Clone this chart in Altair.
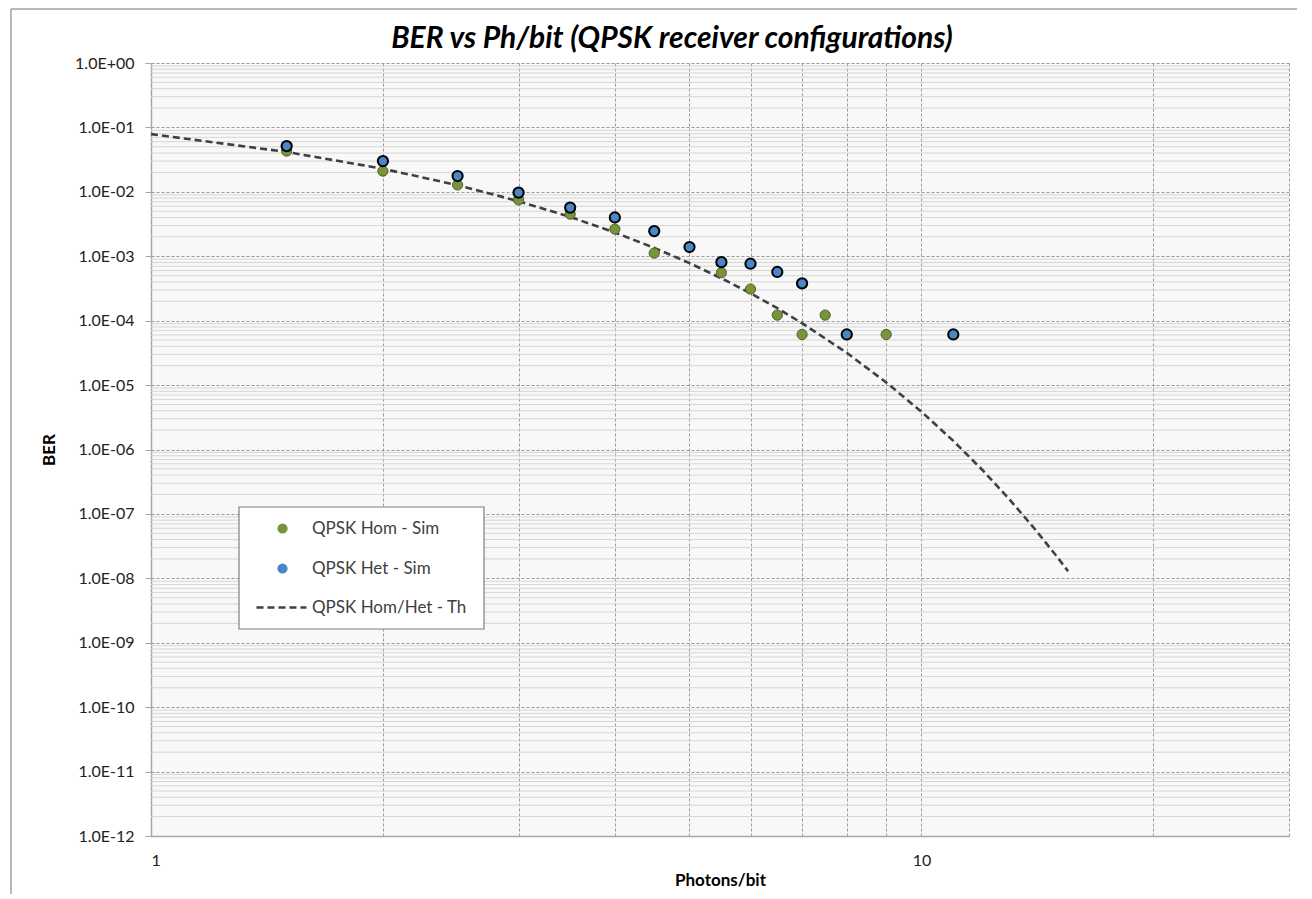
import altair as alt
import pandas as pd

# ---- data ----
hom_x = [1.5, 2, 2.5, 3, 3.5, 4, 4.5, 5.5, 6, 6.5, 7, 7.5, 9]
hom_y = [0.043, 0.021, 0.0128, 0.0075, 0.0045, 0.00264, 0.00112, 0.000555,
         0.00031, 0.000122, 6.1e-5, 0.000122, 6.1e-5]

het_x = [1.5, 2, 2.5, 3, 3.5, 4, 4.5, 5, 5.5, 6, 6.5, 7, 8, 11]
het_y = [0.0513, 0.030, 0.0176, 0.0097, 0.0057, 0.0040, 0.00246, 0.00139,
         0.00081, 0.000765, 0.00057, 0.00038, 6.1e-5, 6.1e-5]

th_x = [1, 1.5, 2, 2.5, 3, 3.5, 4, 4.5, 5, 5.5, 6, 6.5, 7, 8, 9, 10, 11, 12,
        13, 14, 15, 15.5]
th_y = [0.0787, 0.0416, 0.0228, 0.0127, 0.00715, 0.00408, 0.00234, 0.00135,
        0.000783, 0.000455, 0.000266, 0.000156, 9.14e-5, 3.17e-5, 1.1e-5,
        3.87e-6, 1.36e-6, 4.81e-7, 1.7e-7, 6.05e-8, 2.16e-8, 1.29e-8]

S_HOM = "QPSK Hom - Sim"
S_HET = "QPSK Het - Sim"
S_TH = "QPSK Hom/Het - Th"
TITLE = "BER vs Ph/bit (QPSK receiver configurations)"

x_ticks = [1, 2, 3, 4, 5, 6, 7, 8, 9, 10, 20, 30]
y_major = [10.0 ** k for k in range(-12, 1)]
y_minor = [m * 10.0 ** k for k in range(-12, 0) for m in range(2, 10)]

pts = pd.DataFrame({
    "x": hom_x + het_x,
    "y": hom_y + het_y,
    "series": [S_HOM] * len(hom_x) + [S_HET] * len(het_x),
})
th = pd.DataFrame({"x": th_x, "y": th_y, "series": [S_TH] * len(th_x)})
minor = pd.DataFrame({"y": y_minor})
one = pd.DataFrame({"a": [0]})

W, H = 1138, 773
FONT = "Lato"

xscale = alt.Scale(type="log", domain=[1, 30], nice=False)
yscale = alt.Scale(type="log", domain=[1e-12, 1], nice=False)

xaxis = alt.Axis(values=x_ticks, title="Photons/bit",
                 labelExpr="(datum.value == 1 || datum.value == 10) ? datum.label : ''",
                 ticks=False, labelPadding=16, titlePadding=4,
                 grid=True, gridDash=[3, 2], gridColor="#9a9a9a", gridWidth=1,
                 domainColor="#a6a6a6", domainWidth=1.5)
yaxis = alt.Axis(values=y_major, title="BER",
                 labelExpr="'1.0E' + (round(log(datum.value)/LN10) >= 0 ? '+' : '-') + "
                           "(abs(round(log(datum.value)/LN10)) < 10 ? '0' : '') + "
                           "abs(round(log(datum.value)/LN10))",
                 tickSize=6, tickColor="#a6a6a6", labelPadding=11, titlePadding=16,
                 grid=True, gridDash=[3, 2], gridColor="#9a9a9a", gridWidth=1,
                 domainColor="#a6a6a6", domainWidth=1.5)

minor_grid = alt.Chart(minor).mark_rule(color="#d6d6d6", strokeWidth=1).encode(
    y=alt.Y("y:Q", scale=yscale, axis=yaxis)
)

base_x = alt.X("x:Q", scale=xscale, axis=xaxis)

line = alt.Chart(th).mark_line(color="#404040", strokeWidth=2.6).encode(
    x=base_x,
    y=alt.Y("y:Q", scale=yscale),
    strokeDash=alt.StrokeDash(
        "series:N",
        scale=alt.Scale(domain=[S_TH], range=[[7, 4]]),
        legend=alt.Legend(title=None, orient="none", legendX=122, legendY=536,
                          symbolType="M-5,0H5", symbolSize=100,
                          symbolStrokeColor="#404040", symbolStrokeWidth=2.6,
                          labelFont=FONT, labelFontSize=17, labelColor="#404040",
                          labelOffset=22, padding=0),
    ),
)

points = alt.Chart(pts).mark_point(filled=True, size=105, opacity=1).encode(
    x=base_x,
    y=alt.Y("y:Q", scale=yscale),
    color=alt.Color(
        "series:N",
        scale=alt.Scale(domain=[S_HOM, S_HET], range=["#77933C", "#4A86C8"]),
        legend=alt.Legend(title=None, orient="none", legendX=123, legendY=457,
                          symbolType="circle", symbolSize=105, symbolStrokeWidth=0,
                          labelFont=FONT, labelFontSize=17, labelColor="#404040",
                          labelOffset=21, rowPadding=22, padding=0),
    ),
    stroke=alt.Stroke(
        "series:N",
        scale=alt.Scale(domain=[S_HOM, S_HET], range=["#4F6228", "#000000"]),
        legend=None,
    ),
    strokeWidth=alt.StrokeWidth(
        "series:N",
        scale=alt.Scale(domain=[S_HOM, S_HET], range=[1, 2]),
        legend=None,
    ),
)

legend_box = alt.Chart(one).mark_rect(fill="white", stroke="#7f7f7f", strokeWidth=1.2).encode(
    x=alt.value(88), x2=alt.value(333), y=alt.value(444), y2=alt.value(566)
)

frame_v = alt.Chart(one).mark_rule(color="#a0a0a0", strokeWidth=1.5).encode(
    x=alt.value(-140), y=alt.value(-54), y2=alt.value(H + 58)
)
frame_h = alt.Chart(one).mark_rule(color="#a0a0a0", strokeWidth=1.5).encode(
    x=alt.value(-140), x2=alt.value(W + 8), y=alt.value(-54)
)

title = alt.Chart(one).mark_text(
    text=TITLE, font=FONT, fontSize=30, fontWeight="bold", fontStyle="italic",
    color="#000000", align="center", baseline="alphabetic",
).encode(x=alt.value(W / 2 - 48), y=alt.value(-15))

chart = alt.layer(
    minor_grid, line, points, legend_box, frame_v, frame_h, title
).resolve_scale(
    color="independent", strokeDash="independent", stroke="independent"
).properties(
    width=W, height=H,
    padding={"left": 2, "top": 0, "right": 0, "bottom": 0},
).configure_view(
    fill="#f8f8f8", stroke=None
).configure_axis(
    labelFont=FONT, labelFontSize=16, labelColor="#222222",
    titleFont=FONT, titleFontSize=17, titleFontWeight="bold", titleColor="#000000",
)

chart.save("out.html", embed_options={"renderer": "svg", "actions": False})
